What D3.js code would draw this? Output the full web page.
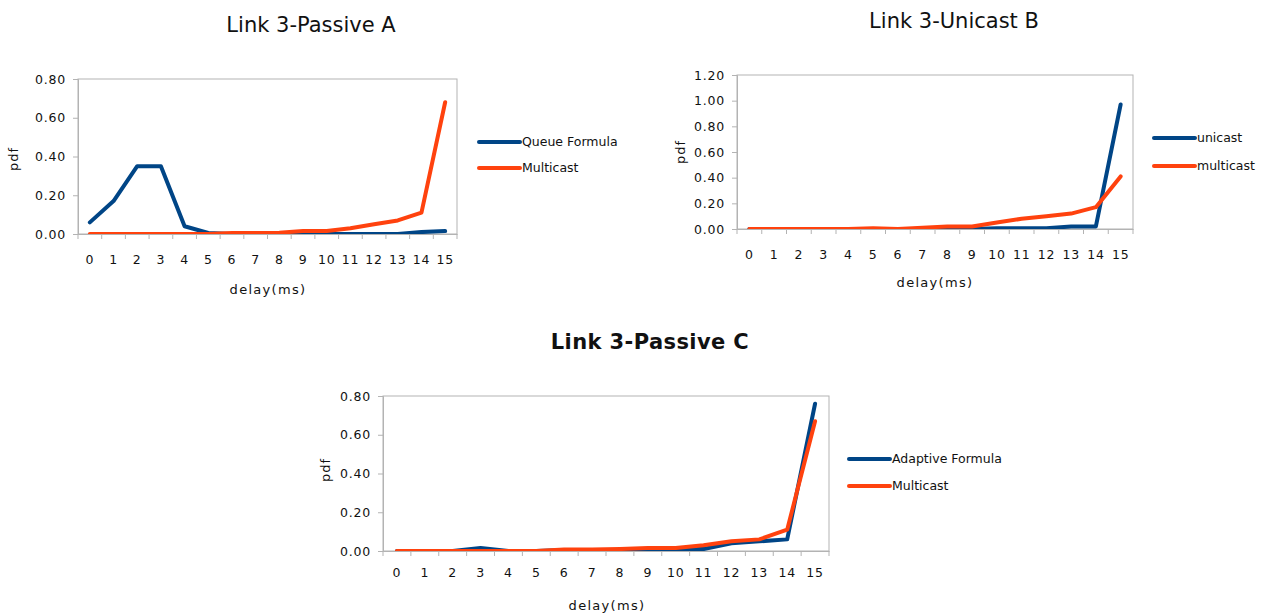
<!DOCTYPE html>
<html><head><meta charset="utf-8">
<script src="https://cdn.jsdelivr.net/npm/d3@7"></script>
<style>
html,body{margin:0;padding:0;background:#fff;}
svg{display:block;font-family:"DejaVu Sans",sans-serif;}
</style></head>
<body><svg id="c" width="1277" height="616"></svg>
<script>
// ---- data ----
const delays = ["0","1","2","3","4","5","6","7","8","9","10","11","12","13","14","15"];

const titleA = "Link 3-Passive A";
const seriesNamesA = ["Queue Formula","Multicast"];
const queueFormulaA = [0.06,0.17,0.35,0.35,0.04,0.005,0,0,0,0,0,0,0,0,0.01,0.015];
const multicastA    = [0,0,0,0,0,0,0.005,0.005,0.007,0.015,0.015,0.03,0.05,0.07,0.11,0.68];
const yTicksA = [0,0.2,0.4,0.6,0.8];

const titleB = "Link 3-Unicast B";
const seriesNamesB = ["unicast","multicast"];
const unicastB   = [0,0,0,0,0,0,0,0,0,0,0.005,0.005,0.005,0.02,0.02,0.97];
const multicastB = [0,0,0,0,0,0.005,0,0.01,0.02,0.02,0.05,0.08,0.10,0.12,0.17,0.41];
const yTicksB = [0,0.2,0.4,0.6,0.8,1.0,1.2];

const titleC = "Link 3-Passive C";
const seriesNamesC = ["Adaptive Formula","Multicast"];
const adaptiveC  = [0,0,0,0.015,0,0,0.005,0.005,0.005,0.01,0.01,0.01,0.04,0.05,0.06,0.76];
const multicastC = [0,0,0,0,0,0,0.008,0.008,0.01,0.015,0.015,0.03,0.05,0.06,0.11,0.67];
const yTicksC = [0,0.2,0.4,0.6,0.8];

const xTitle = "delay(ms)";
const yTitle = "pdf";
const colors = ["#004586","#ff420e"];

// ---- drawing ----
const svg = d3.select("#c");

function drawChart(o){
  const g = svg.append("g");
  const x = d3.scaleBand().domain(delays).range([o.x0, o.x1]);
  const y = d3.scaleLinear().domain([0, d3.max(o.yTicks)]).range([o.y1, o.y0]);
  const cx = d => x(d) + x.bandwidth()/2;

  // title
  g.append("text").attr("x", o.tx).attr("y", o.ty).attr("text-anchor","middle")
    .attr("font-size", 21).attr("font-weight", o.bold ? "bold" : "normal")
    .attr("letter-spacing", o.bold ? 0.4 : 0)
    .attr("fill","#111").text(o.title);

  // plot border
  g.append("rect").attr("x", o.x0).attr("y", o.y0)
    .attr("width", o.x1 - o.x0).attr("height", o.y1 - o.y0)
    .attr("fill","none").attr("stroke","#b3b3b3").attr("stroke-width",1);

  // y axis
  const ya = g.append("g").attr("transform", `translate(${o.x0},0)`)
    .call(d3.axisLeft(y).tickValues(o.yTicks).tickFormat(d3.format(".2f")).tickSize(5).tickPadding(7));
  ya.select(".domain").attr("stroke","#b3b3b3");
  ya.selectAll(".tick line").attr("stroke","#b3b3b3");
  ya.selectAll(".tick text").attr("font-size",12.5).attr("letter-spacing",0.8).attr("fill","#111")
    .attr("font-family","DejaVu Sans");

  // x axis: labels at category centers, ticks at category boundaries
  const xa = g.append("g").attr("transform", `translate(0,${o.y1})`)
    .call(d3.axisBottom(x).tickSize(0).tickPadding(o.xLabelPad));
  xa.select(".domain").attr("stroke","#b3b3b3");
  xa.selectAll(".tick text").attr("font-size",12.5).attr("letter-spacing",0.8).attr("fill","#111")
    .attr("font-family","DejaVu Sans");
  g.append("g").selectAll("line").data(delays.concat(["__end"])).join("line")
    .attr("x1", (d,i) => i < delays.length ? x(d) : o.x1)
    .attr("x2", (d,i) => i < delays.length ? x(d) : o.x1)
    .attr("y1", o.y1).attr("y2", o.y1 + 5)
    .attr("stroke","#b3b3b3");

  // axis titles
  g.append("text").attr("x", o.xtx).attr("y", o.xty).attr("text-anchor","middle")
    .attr("font-size",13).attr("letter-spacing",1.3).attr("fill","#111").text(xTitle);
  g.append("text").attr("transform", `translate(${o.ytx},${o.yty}) rotate(-90)`)
    .attr("text-anchor","middle").attr("dy","0.35em")
    .attr("font-size",13).attr("letter-spacing",1).attr("fill","#111").text(yTitle);

  // clip
  const clipId = "clip" + o.id;
  svg.append("clipPath").attr("id", clipId).append("rect")
    .attr("x", o.x0).attr("y", o.y0 - 10).attr("width", o.x1 - o.x0 + 10).attr("height", o.y1 - o.y0 + 10);

  const line = d3.line().x((d,i) => cx(delays[i])).y(d => y(d));
  const lg = g.append("g").attr("clip-path", `url(#${clipId})`);
  o.series.forEach((s, k) => {
    lg.append("path").datum(s).attr("d", line).attr("fill","none")
      .attr("stroke", colors[k]).attr("stroke-width",4)
      .attr("stroke-linejoin","round").attr("stroke-linecap","round");
  });

  // legend
  o.names.forEach((n, k) => {
    const ly = o.ly[k];
    g.append("line").attr("x1", o.lx).attr("x2", o.lx + 41).attr("y1", ly).attr("y2", ly)
      .attr("stroke", colors[k]).attr("stroke-width",4).attr("stroke-linecap","round");
    g.append("text").attr("x", o.lx + 43).attr("y", ly).attr("dy","0.35em")
      .attr("font-size",12.5).attr("fill","#111").text(n);
  });
}

drawChart({id:"A", title:titleA, tx:311, ty:32, bold:false,
  x0:78, x1:457, y0:79, y1:234, yTicks:yTicksA, xLabelPad:21,
  xtx:268, xty:294, ytx:13, yty:159,
  series:[queueFormulaA, multicastA], names:seriesNamesA,
  lx:479, ly:[142,168]});

drawChart({id:"B", title:titleB, tx:954, ty:28, bold:false,
  x0:737, x1:1133, y0:75, y1:229, yTicks:yTicksB, xLabelPad:21,
  xtx:935, xty:287, ytx:680, yty:152,
  series:[unicastB, multicastB], names:seriesNamesB,
  lx:1154, ly:[138,166]});

drawChart({id:"C", title:titleC, tx:650, ty:349, bold:true,
  x0:383, x1:829, y0:396, y1:551, yTicks:yTicksC, xLabelPad:17,
  xtx:607, xty:610, ytx:325, yty:470,
  series:[adaptiveC, multicastC], names:seriesNamesC,
  lx:849, ly:[459,486]});
</script>
</body></html>
